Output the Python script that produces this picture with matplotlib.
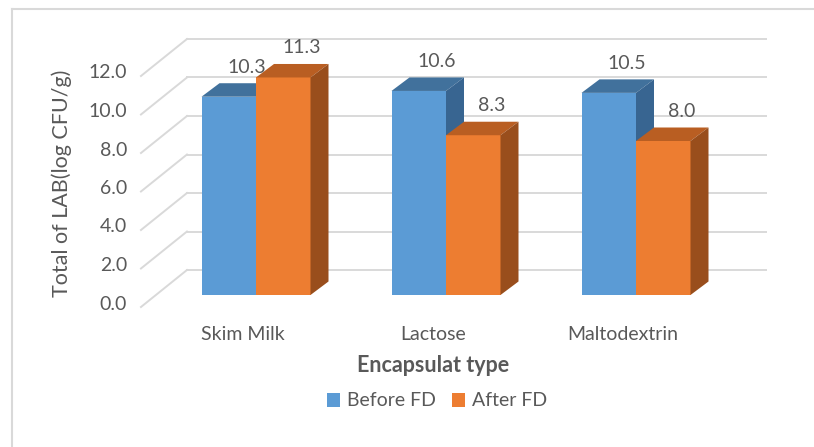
import matplotlib.pyplot as plt
from matplotlib.patches import Polygon, Patch
from matplotlib.lines import Line2D

categories = ['Skim Milk', 'Lactose', 'Maltodextrin']
before_fd = [10.3, 10.6, 10.5]
after_fd = [11.3, 8.3, 8.0]
series = ['Before FD', 'After FD']
yticks = [0, 2, 4, 6, 8, 10, 12]

# front, top, side shades for each series
blue = ['#5B9BD5', '#41719C', '#386591']
orange = ['#ED7D31', '#B95E22', '#994E1C']
text_col = '#595959'
grid_col = '#D9D9D9'

plt.rcParams['font.family'] = ['Lato', 'DejaVu Sans']

W, H = 814, 447
fig = plt.figure(figsize=(W / 100, H / 100), dpi=100)

# axes box = front plane of the bars
x0px, x1px = 161, 731
y0px, y1px = 295, 25.5
ax = fig.add_axes([x0px / W, (H - y0px) / H, (x1px - x0px) / W, (y0px - y1px) / H])
ax.set_xlim(-0.5, 2.5)
ax.set_ylim(0, 14)
ax.axis('off')

sx = (x1px - x0px) / 3.0   # px per category
sy = (y0px - y1px) / 14.0  # px per value unit


def off(dx, dy):
    return dx / sx, dy / sy


bx, by = off(18, 13.5)     # bar depth
wx, wy = off(33, 25)       # back wall
fx, fy = off(-13, -12)     # front edge of floor / side wall
wall_l, wall_r = -0.537, 2.51

# gridlines on back wall and side wall
for v in yticks:
    ax.plot([wall_l + wx, wall_r + wx], [v + wy, v + wy], color=grid_col, lw=1.4,
            zorder=1, clip_on=False)
    ax.plot([wall_l + fx, wall_l + wx], [v + fy, v + wy], color=grid_col, lw=1.4,
            zorder=1, clip_on=False)
    ax.text(wall_l + fx - 14 / sx, v + fy + 3 / sy, f'{v:.1f}', ha='right', va='center',
            fontsize=14, color=text_col)

w = 54.5 / sx
for i, cat in enumerate(categories):
    for j, (vals, cols) in enumerate([(before_fd, blue), (after_fd, orange)]):
        v = vals[i]
        xl = i - w + j * w
        z = 2 + i * 2 + j
        ax.add_patch(Polygon([(xl, 0), (xl + w, 0), (xl + w, v), (xl, v)],
                             closed=True, fc=cols[0], ec='none', zorder=z, clip_on=False))
        ax.add_patch(Polygon([(xl, v), (xl + w, v), (xl + w + bx, v + by), (xl + bx, v + by)],
                             closed=True, fc=cols[1], ec='none', zorder=z, clip_on=False))
        ax.add_patch(Polygon([(xl + w, 0), (xl + w + bx, by), (xl + w + bx, v + by), (xl + w, v)],
                             closed=True, fc=cols[2], ec='none', zorder=z, clip_on=False))
        ax.text(xl + w / 2 + bx, v + by + 16 / sy, f'{v:.1f}', ha='center', va='center',
                fontsize=14, color=text_col, zorder=20)
    ax.text(i + fx, -40 / sy, cat, ha='center', va='center', fontsize=14, color=text_col)

fig.text(433 / W, (H - 365) / H, 'Encapsulat type', ha='center', va='center',
         fontsize=15.5, fontweight='bold', color=text_col)
fig.text(62 / W, (H - 183) / H, 'Total of LAB(log CFU/g)', ha='center', va='center',
         rotation=90, fontsize=15.5, color=text_col)

handles = [Patch(fc=blue[0], ec='none'), Patch(fc=orange[0], ec='none')]
fig.legend(handles, series, loc='center', bbox_to_anchor=(437 / W, (H - 401) / H), ncol=2,
           frameon=False, handlelength=0.7, handleheight=0.7, handletextpad=0.35,
           columnspacing=0.8, fontsize=14, labelcolor=text_col)

# chart area border
fig.add_artist(Line2D([12 / W, 1], [(H - 9) / H, (H - 9) / H], color=grid_col, lw=1.5))
fig.add_artist(Line2D([12 / W, 12 / W], [0, (H - 9) / H], color=grid_col, lw=1.5))

fig.savefig('out.png', dpi=100, facecolor='white')
